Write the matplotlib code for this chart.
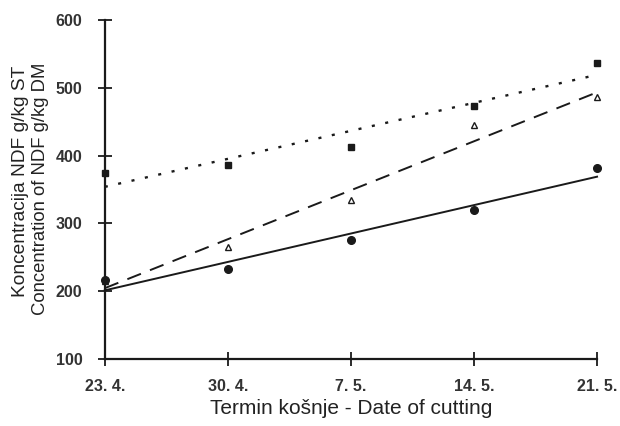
import numpy as np
import matplotlib
matplotlib.use("Agg")
import matplotlib.pyplot as plt

categories = ["23. 4.", "30. 4.", "7. 5.", "14. 5.", "21. 5."]
squares = [374, 386, 413, 473, 537]
triangles = [215, 265, 334, 445, 486]
circles = [216, 233, 275, 320, 382]
yticks = [100, 200, 300, 400, 500, 600]

plt.rcParams['font.family'] = ['Liberation Sans', 'DejaVu Sans']

fig = plt.figure(figsize=(6.2, 4.26), dpi=100)
ax = fig.add_axes([0.169, 0.157, 0.794, 0.796])

x = np.arange(len(categories))
ink = "#1a1a1a"

def trend(vals, ls, lw, dashes=None):
    p = np.polyfit(x, vals, 1)
    xx = np.array([x[0], x[-1]])
    line, = ax.plot(xx, np.polyval(p, xx), color=ink, lw=lw, linestyle=ls, clip_on=False)
    if dashes is not None:
        line.set_dashes(dashes)

trend(squares, '--', 1.7, dashes=(1.3, 4.5))
trend(triangles, '--', 1.4, dashes=(7.5, 5))
trend(circles, '-', 1.4)

ax.plot(x, squares, 's', color=ink, ms=5, clip_on=False, zorder=5)
ax.plot(x, triangles, '^', mfc='white', mec=ink, mew=1.0, ms=5, clip_on=False, zorder=5)
ax.plot(x, circles, 'o', color=ink, ms=5.5, clip_on=False, zorder=5)

ax.set_xlim(0, 4)
ax.set_ylim(100, 600)
ax.set_xticks(x)
ax.set_xticklabels(categories, fontsize=11.5, fontweight='bold', color='#333333')
ax.set_yticks(yticks)
ax.set_yticklabels([str(v) for v in yticks], fontsize=11.5, fontweight='bold', color='#333333')
ax.tick_params(axis='both', direction='inout', length=10, width=1.3, color=ink)
ax.tick_params(axis='x', pad=9)
ax.tick_params(axis='y', pad=11)

for s in ['top', 'right']:
    ax.spines[s].set_visible(False)
for s in ['left', 'bottom']:
    ax.spines[s].set_linewidth(1.6)
    ax.spines[s].set_color(ink)

fig.text(0.033, 0.575, "Koncentracija NDF g/kg ST", rotation=90, ha='center', va='center',
         fontsize=13.8, color='#222222')
fig.text(0.066, 0.556, "Concentration of NDF g/kg DM", rotation=90, ha='center', va='center',
         fontsize=13.3, color='#222222')
fig.text(0.566, 0.042, "Termin košnje - Date of cutting", ha='center', va='center',
         fontsize=15, color='#222222')

fig.savefig("out.png", dpi=100, facecolor='white')
